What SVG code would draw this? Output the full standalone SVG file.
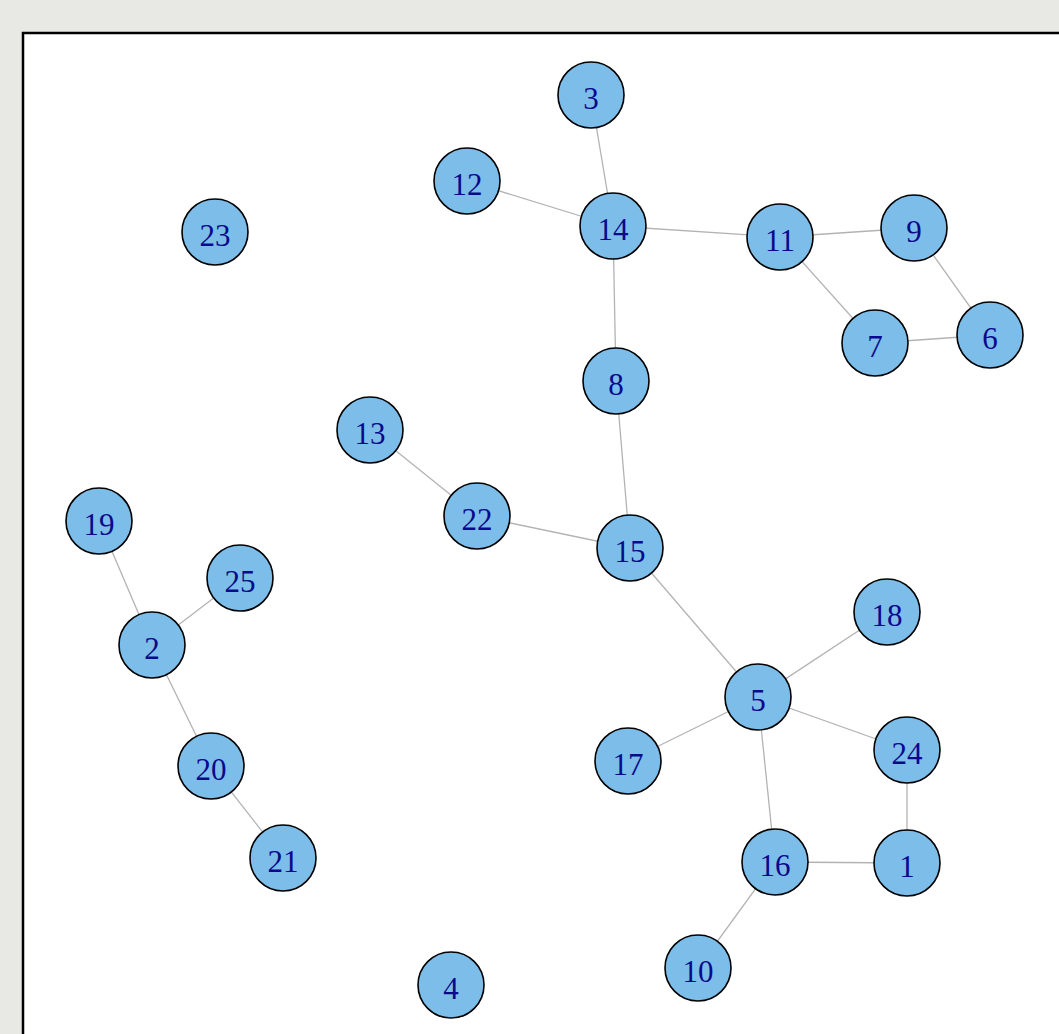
<svg xmlns="http://www.w3.org/2000/svg" width="1059" height="1034" viewBox="0 0 1059 1034">
<defs>
<style>
.bg{fill:#e8e8e5}
.frame{fill:#ffffff;stroke:#000000;stroke-width:2.5}
.edge{stroke:#b3b3b3;stroke-width:1.3;fill:none}
.node circle{fill:#7dbde9;stroke:#000000;stroke-width:1.6}
.node text{font-family:"Liberation Serif","Times New Roman",serif;font-size:31px;fill:#0a0a8c;text-anchor:middle;dominant-baseline:central}
</style>
</defs>
<rect class="bg" x="0" y="0" width="1059" height="1034"/>
<rect class="frame" x="23" y="33" width="1060" height="1040"/>
<g id="connectors">
<line class="edge" x1="591" y1="95" x2="613" y2="226"/>
<line class="edge" x1="467" y1="181" x2="613" y2="226"/>
<line class="edge" x1="613" y1="226" x2="780" y2="237"/>
<line class="edge" x1="780" y1="237" x2="914" y2="228"/>
<line class="edge" x1="914" y1="228" x2="990" y2="335"/>
<line class="edge" x1="780" y1="237" x2="875" y2="343"/>
<line class="edge" x1="875" y1="343" x2="990" y2="335"/>
<line class="edge" x1="613" y1="226" x2="616" y2="381"/>
<line class="edge" x1="616" y1="381" x2="630" y2="548"/>
<line class="edge" x1="370" y1="430" x2="477" y2="516"/>
<line class="edge" x1="477" y1="516" x2="630" y2="548"/>
<line class="edge" x1="630" y1="548" x2="758" y2="697"/>
<line class="edge" x1="758" y1="697" x2="887" y2="612"/>
<line class="edge" x1="758" y1="697" x2="628" y2="761"/>
<line class="edge" x1="758" y1="697" x2="907" y2="750"/>
<line class="edge" x1="758" y1="697" x2="775" y2="862"/>
<line class="edge" x1="907" y1="750" x2="907" y2="863"/>
<line class="edge" x1="775" y1="862" x2="907" y2="863"/>
<line class="edge" x1="775" y1="862" x2="698" y2="968"/>
<line class="edge" x1="99" y1="521" x2="152" y2="645"/>
<line class="edge" x1="240" y1="578" x2="152" y2="645"/>
<line class="edge" x1="152" y1="645" x2="211" y2="766"/>
<line class="edge" x1="211" y1="766" x2="283" y2="858"/>
</g>
<g id="n3" class="node"><circle cx="591" cy="95" r="33"/><text x="591" y="98">3</text></g>
<g id="n12" class="node"><circle cx="467" cy="181" r="33"/><text x="467" y="184">12</text></g>
<g id="n14" class="node"><circle cx="613" cy="226" r="33"/><text x="613" y="229">14</text></g>
<g id="n11" class="node"><circle cx="780" cy="237" r="33"/><text x="780" y="240">11</text></g>
<g id="n9" class="node"><circle cx="914" cy="228" r="33"/><text x="914" y="231">9</text></g>
<g id="n6" class="node"><circle cx="990" cy="335" r="33"/><text x="990" y="338">6</text></g>
<g id="n7" class="node"><circle cx="875" cy="343" r="33"/><text x="875" y="346">7</text></g>
<g id="n23" class="node"><circle cx="215" cy="232" r="33"/><text x="215" y="235">23</text></g>
<g id="n8" class="node"><circle cx="616" cy="381" r="33"/><text x="616" y="384">8</text></g>
<g id="n13" class="node"><circle cx="370" cy="430" r="33"/><text x="370" y="433">13</text></g>
<g id="n22" class="node"><circle cx="477" cy="516" r="33"/><text x="477" y="519">22</text></g>
<g id="n15" class="node"><circle cx="630" cy="548" r="33"/><text x="630" y="551">15</text></g>
<g id="n19" class="node"><circle cx="99" cy="521" r="33"/><text x="99" y="524">19</text></g>
<g id="n25" class="node"><circle cx="240" cy="578" r="33"/><text x="240" y="581">25</text></g>
<g id="n2" class="node"><circle cx="152" cy="645" r="33"/><text x="152" y="648">2</text></g>
<g id="n18" class="node"><circle cx="887" cy="612" r="33"/><text x="887" y="615">18</text></g>
<g id="n5" class="node"><circle cx="758" cy="697" r="33"/><text x="758" y="700">5</text></g>
<g id="n24" class="node"><circle cx="907" cy="750" r="33"/><text x="907" y="753">24</text></g>
<g id="n17" class="node"><circle cx="628" cy="761" r="33"/><text x="628" y="764">17</text></g>
<g id="n20" class="node"><circle cx="211" cy="766" r="33"/><text x="211" y="769">20</text></g>
<g id="n16" class="node"><circle cx="775" cy="862" r="33"/><text x="775" y="865">16</text></g>
<g id="n1" class="node"><circle cx="907" cy="863" r="33"/><text x="907" y="866">1</text></g>
<g id="n21" class="node"><circle cx="283" cy="858" r="33"/><text x="283" y="861">21</text></g>
<g id="n10" class="node"><circle cx="698" cy="968" r="33"/><text x="698" y="971">10</text></g>
<g id="n4" class="node"><circle cx="451" cy="985" r="33"/><text x="451" y="988">4</text></g>
</svg>
